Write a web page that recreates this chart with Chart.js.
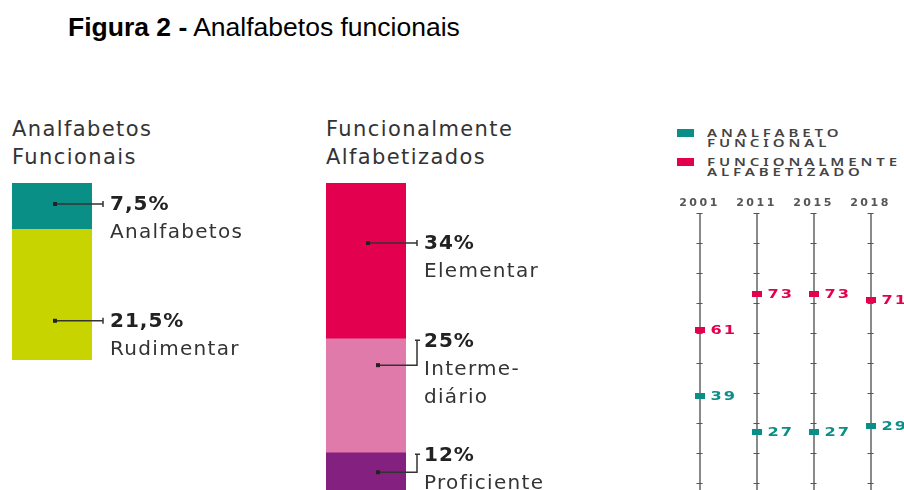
<!DOCTYPE html>
<html lang="pt-BR">
<head>
<meta charset="utf-8">
<script src="https://cdn.jsdelivr.net/npm/chart.js@4.4.1/dist/chart.umd.min.js"></script>
<style>
  html, body { margin: 0; padding: 0; background: #fff; }
  body { width: 904px; height: 490px; overflow: hidden; position: relative; font-family: "DejaVu Sans", sans-serif; }
  .title { position: absolute; left: 68px; top: 12px; font: 26.5px "Liberation Sans", Arial, sans-serif; color: #000; white-space: nowrap; }
  .title b { font-weight: bold; }
  .head { position: absolute; top: 115px; font-size: 21px; line-height: 28px; letter-spacing: 1.4px; color: #333; white-space: nowrap; }
  canvas { position: absolute; }
  .leg { position: absolute; left: 677px; }
  .leg .sw { position: absolute; left: 0; top: 0; width: 17px; height: 8px; }
  .leg .tx { position: absolute; left: 30px; top: -1px; font-size: 10px; line-height: 10px; letter-spacing: 2.6px; color: #444; font-weight: 600;
             white-space: nowrap; font-family: "Noto Sans", sans-serif; transform: scaleX(1.5); transform-origin: 0 0; }
</style>
</head>
<body>
<div class="title"><b>Figura 2 -</b> Analfabetos funcionais</div>
<div class="head" style="left:12px">Analfabetos<br>Funcionais</div>
<div class="head" style="left:326px">Funcionalmente<br>Alfabetizados</div>
<div id="legend"></div>

<canvas id="funcChart" width="300" height="177" style="left:12px; top:183px"></canvas>
<canvas id="alfChart" width="300" height="324" style="left:326px; top:183px"></canvas>
<canvas id="yearChart" width="241" height="333" style="left:663px; top:185px"></canvas>

<script>
// analfabetos funcionais (2018)
const funcLabels = ['Analfabetos', 'Rudimentar'];
const funcValues = [7.5, 21.5];
const funcColors = ['#0a8f86', '#c8d400'];

// funcionalmente alfabetizados (2018)
const alfLabels = ['Elementar', 'Interme-\ndiário', 'Proficiente'];
const alfValues = [34, 25, 12];
const alfColors = ['#e3004f', '#e07aab', '#84207f'];

// evolução
const years = ['2001', '2011', '2015', '2018'];
const seriesNames = ['Analfabeto\nfuncional', 'Funcionalmente\nalfabetizado'];
const analfabetoFuncional = [39, 27, 27, 29];
const funcionalmenteAlfabetizado = [61, 73, 73, 71];

const TEAL = '#0a8f86';
const PINK = '#e3004f';

function pct(v) {
  return String(v).replace('.', ',') + '%';
}

// dot + connector + text next to each stacked segment
const connectorPlugin = {
  id: 'connectors',
  afterDatasetsDraw(chart, args, opts) {
    const ctx = chart.ctx;
    const left = chart.chartArea.left;
    chart.data.datasets.forEach((ds, i) => {
      const bar = chart.getDatasetMeta(i).data[0];
      const top = Math.min(bar.y, bar.base);
      const st = opts.styles[i];
      const dotX = left + st.dotX;
      const dotY = top + st.dot;
      const endX = left + 91;
      let textY;

      ctx.save();
      ctx.strokeStyle = '#333';
      ctx.lineWidth = 1.5;
      ctx.beginPath();
      if (st.kind === 'elbow') {
        textY = top + 4;
        ctx.moveTo(dotX, dotY);
        ctx.lineTo(endX, dotY);
        ctx.lineTo(endX, textY - 2);
        ctx.moveTo(endX - 2, textY - 2);
        ctx.lineTo(endX + 3, textY - 2);
      } else {
        textY = dotY + 1;
        ctx.moveTo(dotX, dotY);
        ctx.lineTo(endX, dotY);
        ctx.moveTo(endX, dotY - 3);
        ctx.lineTo(endX, dotY + 3);
      }
      ctx.stroke();
      ctx.fillStyle = '#222';
      ctx.fillRect(dotX - 2, dotY - 2, 4, 4);

      const lines = [pct(ds.data[0])].concat(ds.label.split('\n'));
      ctx.textBaseline = 'middle';
      ctx.textAlign = 'left';
      lines.forEach((t, k) => {
        ctx.letterSpacing = k === 0 ? '1px' : '1.3px';
        ctx.font = k === 0 ? 'bold 20px "DejaVu Sans"' : '20px "DejaVu Sans"';
        ctx.fillStyle = k === 0 ? '#222' : '#333';
        ctx.fillText(t, left + 98, textY + k * 28);
      });
      ctx.restore();
    });
  }
};

function stackedBar(id, labels, values, colors, styles) {
  const total = values.reduce((a, b) => a + b, 0);
  return new Chart(document.getElementById(id), {
    type: 'bar',
    data: {
      labels: [''],
      datasets: labels.map((l, i) => ({
        label: l,
        data: [values[i]],
        backgroundColor: colors[i],
        borderWidth: 0,
        barPercentage: 1,
        categoryPercentage: 1
      }))
    },
    options: {
      responsive: false,
      animation: false,
      events: [],
      layout: { padding: { left: 0, right: 220, top: 0, bottom: 0 } },
      plugins: {
        legend: { display: false },
        tooltip: { enabled: false },
        connectors: { styles: styles }
      },
      scales: {
        x: { stacked: true, display: false },
        y: { stacked: true, display: false, reverse: true, min: 0, max: total }
      }
    },
    plugins: [connectorPlugin]
  });
}

stackedBar('funcChart', funcLabels, funcValues, funcColors, [
  { kind: 'straight', dotX: 43, dot: 21 },
  { kind: 'straight', dotX: 43, dot: 92 }
]);

stackedBar('alfChart', alfLabels, alfValues, alfColors, [
  { kind: 'straight', dotX: 42, dot: 60 },
  { kind: 'elbow', dotX: 52, dot: 27 },
  { kind: 'elbow', dotX: 52, dot: 20 }
]);

// legend for the right panel
const legend = document.getElementById('legend');
[[TEAL, 129], [PINK, 158]].forEach(([c, top], i) => {
  const d = document.createElement('div');
  d.className = 'leg';
  d.style.top = top + 'px';
  d.innerHTML = '<div class="sw" style="background:' + c + '"></div><div class="tx">' +
    seriesNames[i].toUpperCase().replace('\n', '<br>') + '</div>';
  legend.appendChild(d);
});

function marker(color) {
  const c = document.createElement('canvas');
  c.width = 10;
  c.height = 6;
  const g = c.getContext('2d');
  g.fillStyle = color;
  g.fillRect(0, 0, 10, 6);
  return c;
}

// little ticks on each year line + value labels
const yearPlugin = {
  id: 'yearDecor',
  beforeDraw(chart) {
    chart.ctx.letterSpacing = '2.5px';
  },
  beforeDatasetsDraw(chart) {
    const ctx = chart.ctx;
    const xs = chart.scales.x, ys = chart.scales.y;
    ctx.save();
    ctx.letterSpacing = '0px';
    ctx.strokeStyle = '#555';
    ctx.lineWidth = 1.2;
    ctx.beginPath();
    years.forEach((y, i) => {
      const x = xs.getPixelForTick(i);
      ys.ticks.forEach(t => {
        const py = Math.round(ys.getPixelForValue(t.value)) + 0.5;
        ctx.moveTo(x - 3, py);
        ctx.lineTo(x + 3, py);
      });
    });
    ctx.stroke();
    ctx.restore();
  },
  afterDatasetsDraw(chart) {
    const ctx = chart.ctx;
    ctx.save();
    ctx.font = 'bold 12px "DejaVu Sans"';
    ctx.letterSpacing = '1.5px';
    ctx.textBaseline = 'middle';
    ctx.textAlign = 'left';
    chart.data.datasets.forEach((ds, i) => {
      chart.getDatasetMeta(i).data.forEach((pt, j) => {
        ctx.save();
        ctx.translate(pt.x + 11, pt.y + 0.5);
        ctx.scale(1.35, 1);
        ctx.fillStyle = ds.borderColor;
        ctx.fillText(String(ds.data[j]), 0, 0);
        ctx.restore();
      });
    });
    ctx.restore();
  }
};

new Chart(document.getElementById('yearChart'), {
  type: 'line',
  data: {
    labels: years,
    datasets: [
      {
        label: seriesNames[0],
        data: analfabetoFuncional,
        borderColor: TEAL,
        backgroundColor: TEAL,
        pointStyle: marker(TEAL),
        showLine: false
      },
      {
        label: seriesNames[1],
        data: funcionalmenteAlfabetizado,
        borderColor: PINK,
        backgroundColor: PINK,
        pointStyle: marker(PINK),
        showLine: false
      }
    ]
  },
  options: {
    responsive: false,
    animation: false,
    events: [],
    layout: { padding: { left: 0, right: 3, top: 0, bottom: 0 } },
    plugins: { legend: { display: false }, tooltip: { enabled: false } },
    scales: {
      x: {
        position: 'top',
        offset: true,
        grid: { offset: false, color: '#8a8a8a', lineWidth: 2, drawTicks: false },
        border: { display: false },
        ticks: { padding: 3, color: '#555', font: { size: 11, weight: 'bold', family: '"DejaVu Sans"' } },
        afterFit(s) { s.height = 28; }
      },
      y: {
        min: 0,
        max: 100,
        ticks: { display: false, stepSize: 10 },
        grid: { display: false },
        border: { display: false }
      }
    }
  },
  plugins: [yearPlugin]
});
</script>
</body>
</html>
